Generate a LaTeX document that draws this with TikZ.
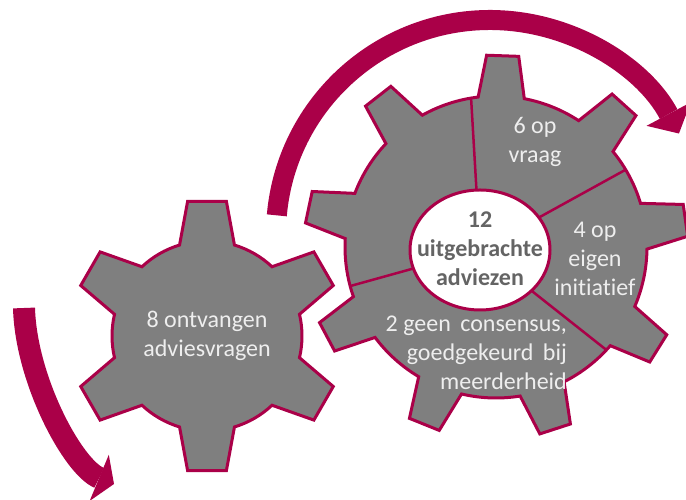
\documentclass[tikz,border=0pt]{standalone}
\usepackage{fontspec}
\setmainfont[Ligatures=NoCommon]{Carlito}
\usepackage{tikz}
\usetikzlibrary{arrows.meta,positioning}
\definecolor{advred}{RGB}{170,0,72}
\definecolor{gearfill}{RGB}{127,127,127}
\definecolor{geartext}{RGB}{238,238,238}
\definecolor{coretext}{RGB}{100,100,100}
% centre, teeth, root radius, tip radius, half angle at root, half angle at tip, first tooth
\newcommand{\gear}[7]{%
  \draw[gear,shift={(#1)}] (#7-#5:#3pt)
    \foreach \k [evaluate=\k as \a using #7+360/#2*(\k-1),
                 evaluate=\k as \s using #7+360/#2*(\k-1)+#5,
                 evaluate=\k as \e using #7+360/#2*\k-#5] in {1,...,#2}
      { -- (\a-#6:#4pt) -- (\a+#6:#4pt) -- (\s:#3pt)
        arc[start angle=\s, end angle=\e, radius=#3pt] } -- cycle;}

\begin{document}
\begin{tikzpicture}[x=1pt,y=1pt]
  \tikzstyle{gear}=[fill=gearfill,draw=advred,line width=3pt]
  \tikzstyle{divider}=[draw=advred,line width=2.5pt]
  \tikzstyle{core}=[fill=white,draw=advred,line width=3pt]
  \tikzstyle{flow}=[draw=advred,line cap=butt]
  \tikzstyle{gearlabel}=[text=geartext,align=center,inner sep=0pt,
                         font=\fontsize{24}{29}\selectfont]
  \tikzstyle{corelabel}=[text=coretext,align=center,inner sep=0pt,
                         font=\fontsize{24}{29}\selectfont\bfseries]
  \useasboundingbox (0,0) rectangle (686,500);

  \coordinate (leftc) at (207,164);
  \coordinate (bigc) at (496,253);
  \coordinate (corec) at (480,250);
  \coordinate (arcc) at (490,266);

  % Arrows.
  \draw[flow,line width=20pt,-{Triangle[length=22pt,width=50pt,line width=0pt]}]
    ([shift={(175:214pt)}]arcc) arc[start angle=175,end angle=28,radius=214pt];
  \coordinate (s0) at (24,192);
  \coordinate (s1) at (114,16);
  \draw[flow,line width=22pt,-{Triangle[length=16pt,width=50pt,line width=0pt]}]
    (s0) .. controls (26,120) and (73,33) .. (s1);

  % Left gear.
  \gear{leftc}{6}{95}{136}{16.8}{8.2}{30}
  \node[gearlabel] (ontv) at (leftc) {8 ontvangen\\adviesvragen};

  % Big gear.
  \gear{bigc}{9}{151}{192}{8.8}{4.8}{88}
  \foreach \d in {99.5,30.8,-43,195}
    \draw[divider] (corec) -- ([shift={(\d:151pt)}]bigc);
  \draw[core] (corec) ellipse [x radius=70pt,y radius=60pt];
  \node[corelabel] (core) at (480,251) {12\\uitgebrachte\\adviezen};

  \node[gearlabel] (vraag) at (535,358) {6 op\\vraag};
  \node[gearlabel] (eigen) at (595,241) {4 op\\eigen\\initiatief};
  \node[gearlabel,anchor=east,align=right] (meerder) at (567,147)
    {2 geen\hspace{4pt} consensus,\\goedgekeurd\hspace{4pt} bij\\meerderheid};
\end{tikzpicture}
\end{document}
